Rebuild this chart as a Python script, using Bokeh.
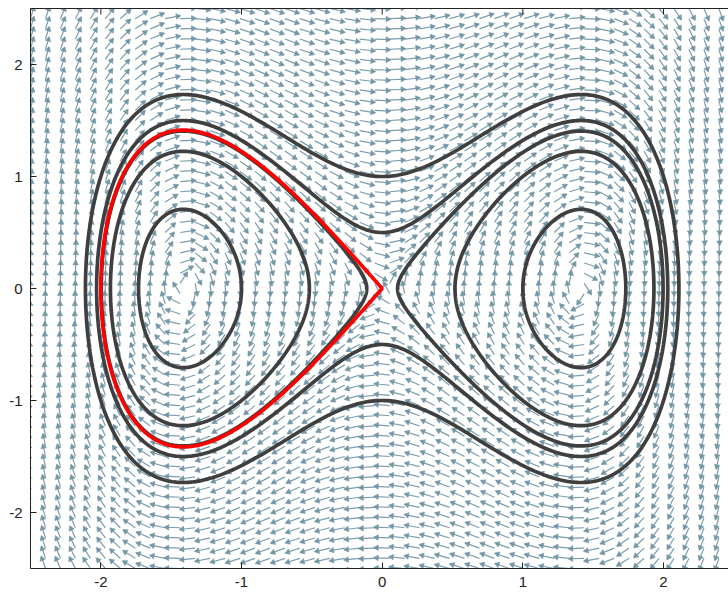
import numpy as np
from bokeh.plotting import figure
from bokeh.models import LinearAxis, FixedTicker, Range1d
from bokeh.embed import file_html
from bokeh.resources import INLINE

# Double-well oscillator:  x' = y,  y' = a*x - b*x**3
# conserved energy        H = y**2/2 - a*x**2/2 + b*x**4/4
coef_a = 2.0
coef_b = 1.0

# quiver grid and arrow length (data units)
grid_x = np.linspace(-2.5, 2.5, 48)
grid_y = np.linspace(-2.5, 2.5, 56)
arrow_len = 0.107

# energy levels of the drawn orbits
gray_levels = [0.5, 0.125, -0.012, -0.25, -0.75]
red_level = 0.0          # separatrix, left loop only

tick_values = [-2, -1, 0, 1, 2]
tick_labels = ["-2", "-1", "0", "1", "2"]
x_view = (-2.5, 2.462)
y_view = (-2.5, 2.5)

# layout of the plotting frame (pixels)
fig_w, fig_h = 728, 592
border_l, border_r, border_t, border_b = 30, 0, 8, 24
frame_w = fig_w - border_l - border_r
frame_h = fig_h - border_t - border_b
px_x = frame_w / (x_view[1] - x_view[0])
px_y = frame_h / (y_view[1] - y_view[0])
tick_px = 6

ARROW_COLOR = "#6f92a3"
ORBIT_COLOR = "#3f3f3f"
AXIS_COLOR = "#222222"
FONT = "Liberation Sans"


def potential_roots(h):
    """Squared x-turning points of the orbit with energy h."""
    half_a = coef_a / 2.0
    d = np.sqrt(half_a ** 2 + coef_b * h)
    s_hi = (half_a + d) / (coef_b / 2.0)
    s_lo = (half_a - d) / (coef_b / 2.0)
    return s_lo, s_hi


def velocity_on(h, xs):
    val = 2.0 * (h + coef_a * xs ** 2 / 2.0 - coef_b * xs ** 4 / 4.0)
    return np.sqrt(np.clip(val, 0.0, None))


def closed_orbit(h, x0, x1, n=400):
    t = np.linspace(0.0, np.pi, n)
    xs = x0 + (x1 - x0) * (1.0 - np.cos(t)) / 2.0
    ys = velocity_on(h, xs)
    px = np.concatenate([xs, xs[::-1]])
    py = np.concatenate([ys, -ys[::-1]])
    return list(px), list(py)


def orbits(h, lobes=("left", "right")):
    s_lo, s_hi = potential_roots(h)
    x_out = np.sqrt(s_hi)
    if h > 0:
        return [closed_orbit(h, -x_out, x_out)]
    x_in = np.sqrt(max(s_lo, 0.0))
    out = []
    if "left" in lobes:
        out.append(closed_orbit(h, -x_out, -x_in))
    if "right" in lobes:
        out.append(closed_orbit(h, x_in, x_out))
    return out


p = figure(width=fig_w, height=fig_h,
           x_range=Range1d(*x_view), y_range=Range1d(*y_view),
           output_backend="svg", toolbar_location=None,
           min_border_left=border_l, min_border_right=border_r,
           min_border_top=border_t, min_border_bottom=border_b,
           x_axis_location=None, y_axis_location=None)
p.outline_line_color = None
p.xgrid.visible = False
p.ygrid.visible = False
p.background_fill_color = "white"

# ---- direction field ----
X, Y = np.meshgrid(grid_x, grid_y)
U = Y
V = coef_a * X - coef_b * X ** 3
norm = np.hypot(U, V)
norm[norm == 0] = 1.0
du = (U / norm * arrow_len).ravel()
dv = (V / norm * arrow_len).ravel()
x0 = X.ravel()
y0 = Y.ravel()
x1 = x0 + du
y1 = y0 + dv
theta = np.arctan2(dv * px_y, du * px_x)
back = 2.0
hx = x1 - np.cos(theta) * back / px_x
hy = y1 - np.sin(theta) * back / px_y

p.segment(x0=x0, y0=y0, x1=x1, y1=y1, line_color=ARROW_COLOR,
          line_width=1.2, line_alpha=0.9)
p.scatter(x=hx, y=hy, marker="triangle", size=5.5, angle=theta - np.pi / 2,
          fill_color=ARROW_COLOR, line_color=ARROW_COLOR, line_width=0.6,
          fill_alpha=0.9)

# ---- energy orbits ----
xs_all, ys_all = [], []
for h in gray_levels:
    for cx, cy in orbits(h):
        xs_all.append(cx)
        ys_all.append(cy)
p.multi_line(xs=xs_all, ys=ys_all, line_color=ORBIT_COLOR, line_width=3.7)

rx, ry = orbits(red_level, lobes=("left",))[0]
p.line(rx, ry, line_color="#ff0000", line_width=3.7)

# ---- axes ----
def style_axis(ax):
    ax.ticker = FixedTicker(ticks=tick_values)
    ax.major_label_overrides = dict(zip(tick_values, tick_labels))
    ax.axis_line_color = AXIS_COLOR
    ax.axis_line_width = 1
    ax.major_tick_line_color = AXIS_COLOR
    ax.major_tick_in = tick_px
    ax.major_tick_out = 0
    ax.minor_tick_line_color = None
    ax.major_label_text_font = FONT
    ax.major_label_text_font_size = "15px"
    ax.major_label_text_color = AXIS_COLOR
    ax.major_label_standoff = 8


left_ax = LinearAxis()
style_axis(left_ax)
p.add_layout(left_ax, "left")

bottom_ax = LinearAxis()
style_axis(bottom_ax)
p.add_layout(bottom_ax, "below")

# top border: a bare axis line, with inward tick marks drawn at the x ticks
top_ax = LinearAxis(ticker=FixedTicker(ticks=[]), axis_line_color=AXIS_COLOR,
                    axis_line_width=1, major_tick_line_color=None,
                    minor_tick_line_color=None, major_label_standoff=0)
p.add_layout(top_ax, "above")

top = y_view[1]
p.segment(x0=tick_values, y0=[top] * len(tick_values),
          x1=tick_values, y1=[top - tick_px / px_y] * len(tick_values),
          line_color=AXIS_COLOR, line_width=1)

open("out.html", "w").write(file_html(p, INLINE))
